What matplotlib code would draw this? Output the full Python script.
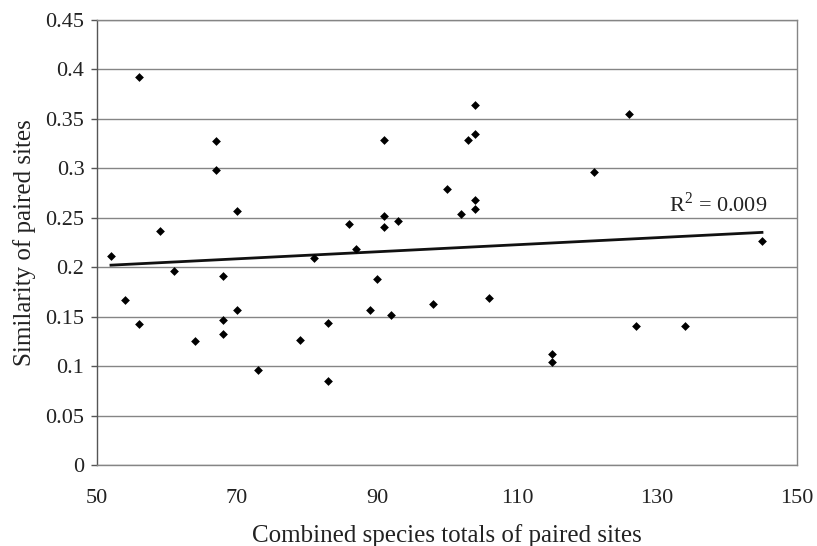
import numpy as np
import matplotlib
matplotlib.use("Agg")
import matplotlib.pyplot as plt

# Combined species totals vs similarity of paired sites
species_totals = [52, 54, 56, 56, 59, 61, 64, 67, 67, 68, 68, 68, 70, 70, 73,
                  79, 81, 83, 83, 86, 87, 89, 90, 91, 91, 91, 92, 93, 98, 100,
                  102, 103, 104, 104, 104, 104, 106, 115, 115, 121, 126, 127,
                  134, 145]
similarity = [0.211, 0.167, 0.392, 0.143, 0.237, 0.196, 0.125, 0.328, 0.298,
              0.191, 0.147, 0.132, 0.257, 0.157, 0.096, 0.126, 0.209, 0.144,
              0.085, 0.244, 0.218, 0.157, 0.188, 0.329, 0.252, 0.241, 0.152,
              0.247, 0.163, 0.279, 0.254, 0.329, 0.364, 0.335, 0.268, 0.259,
              0.169, 0.112, 0.104, 0.296, 0.355, 0.141, 0.141, 0.226]
r2_label = "R$^2$ = 0.009"

plt.rcParams["font.family"] = ["Liberation Serif", "DejaVu Serif"]
plt.rcParams["mathtext.fontset"] = "custom"
plt.rcParams["mathtext.rm"] = "Liberation Serif"

x = np.array(species_totals, dtype=float)
y = np.array(similarity, dtype=float)

fig = plt.figure(figsize=(8.17, 5.46), dpi=100)
ax = fig.add_axes([0.1187, 0.1484, 0.8568, 0.815])

grid_col = "#858585"
ax.set_axisbelow(True)
ax.yaxis.grid(True, color=grid_col, lw=1.0)

ax.scatter(x, y, marker="D", s=20, color="black", zorder=3, linewidths=0)

# linear trend line over the data range
slope, intercept = np.polyfit(x, y, 1)
xt = np.array([x.min(), x.max()])
ax.plot(xt, slope * xt + intercept, color="#111111", lw=2, zorder=2)

ax.text(145.8, 0.263, r2_label, ha="right", va="center", fontsize=16,
        color="#222222")

ax.set_xlim(50, 150)
ax.set_ylim(0, 0.45)
ax.set_xticks(np.arange(50, 151, 20))
ax.set_yticks(np.arange(0, 0.451, 0.05))
ax.set_yticklabels(["0", "0.05", "0.1", "0.15", "0.2", "0.25", "0.3",
                    "0.35", "0.4", "0.45"])

for s in ax.spines.values():
    s.set_color(grid_col)
    s.set_linewidth(1.0)
ax.spines["left"].set_color("#555555")

ax.tick_params(axis="y", length=4, width=1, color="#555555", pad=5,
               labelsize=16, labelcolor="#222222")
ax.tick_params(axis="x", length=0, pad=17, labelsize=16, labelcolor="#222222")

ax.set_xlabel("Combined species totals of paired sites", fontsize=18,
              color="#222222", labelpad=12)
ax.set_ylabel("Similarity of paired sites", fontsize=18, color="#222222",
              labelpad=7)

plt.savefig("out.png", dpi=100)
plt.close()
